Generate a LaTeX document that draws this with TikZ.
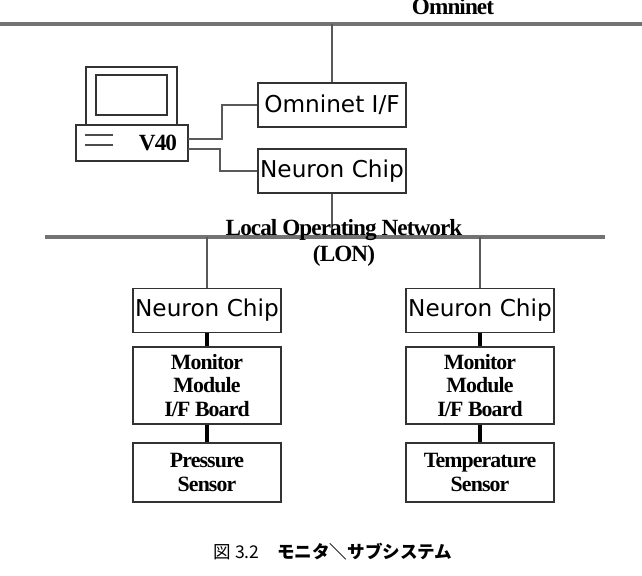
\documentclass[tikz,border=0pt]{standalone}
\usepackage{fontspec}
\setmainfont[LetterSpace=-4]{Liberation Serif}
\newfontfamily\boxfont{DejaVu Sans}
\newfontfamily\cjk{Noto Sans CJK JP}
\usetikzlibrary{positioning}

\tikzset{
  net/.style={draw=gray!90!black, line width=2.2pt},
  wire/.style={draw=gray!70!black, line width=1pt},
  link/.style={draw=black, line width=2.2pt},
  sbox/.style={draw=gray!40!black, line width=0.8pt, minimum width=3.7cm, minimum height=1.1cm, inner sep=0pt, font=\boxfont\fontsize{16.5}{18}\selectfont},
  bbox/.style={draw=gray!40!black, line width=0.8pt, minimum width=3.7cm, inner sep=0pt, align=center, font=\bfseries\fontsize{15.5}{16.5}\selectfont},
  lbl/.style={font=\bfseries\fontsize{16.5}{19}\selectfont, align=center}
}

\begin{document}
\begin{tikzpicture}[x=0.025cm, y=-0.025cm]
\useasboundingbox (0,0) rectangle (642,576);

% Omninet backbone
\draw[net] (0,24) -- (642,24);
\node[lbl] (omni) at (453,7) {Omninet};

% host computer
\draw[line width=0.8pt, gray!40!black] (86,67) rectangle (177,125);
\draw[line width=0.8pt, gray!40!black] (96,75) rectangle (167,115);
\draw[line width=0.8pt, gray!40!black] (76,125) rectangle (188,161);
\draw[line width=1.2pt, gray!60!black] (85,135) -- (113,135);
\draw[line width=1.2pt, gray!60!black] (85,145) -- (113,145);
\node[lbl] (host) at (158,143) {V40};
\coordinate (hostA) at (188,139);
\coordinate (hostB) at (188,149);

% interface boxes
\node[sbox] (omniif) at (332,105) {Omninet I/F};
\node[sbox] (gwchip) at (332,171) {Neuron Chip};
\coordinate (omnitap) at (332,24);
\coordinate (lontap) at (332,237);

\draw[wire] (omnitap) -- (omniif.north);
\draw[wire] (hostA) -- (222,139) |- (omniif.west);
\draw[wire] (hostB) -- (220,149) |- (gwchip.west);
\draw[wire] (gwchip.south) -- (lontap);

% LON
\draw[net] (45,237) -- (605,237);
\node[lbl] (lon) at (344,243) {Local Operating Network\\(LON)};

% two nodes on LON
\foreach \x/\n/\sname in {207/p/{Pressure\\Sensor}, 480/t/{Temperature\\Sensor}}{
  \coordinate (tap\n) at (\x,237);
  \node[sbox] (chip\n) at (\x,310.5) {Neuron Chip};
  \node[bbox, minimum height=1.925cm] (mon\n) at (\x,385.5) {Monitor\\Module\\I/F Board};
  \node[bbox, minimum height=1.475cm] (sen\n) at (\x,472.5) {\sname};
  \draw[wire] (tap\n) -- (chip\n.north);
  \draw[link] (chip\n.south) -- (mon\n.north);
  \draw[link] (mon\n.south) -- (sen\n.north);
}

% caption
\node (cap) at (333,552) {\cjk\fontsize{12.5}{14}\selectfont 図 3.2\quad {\bfseries モニタ＼サブシステム}};
\end{tikzpicture}
\end{document}
